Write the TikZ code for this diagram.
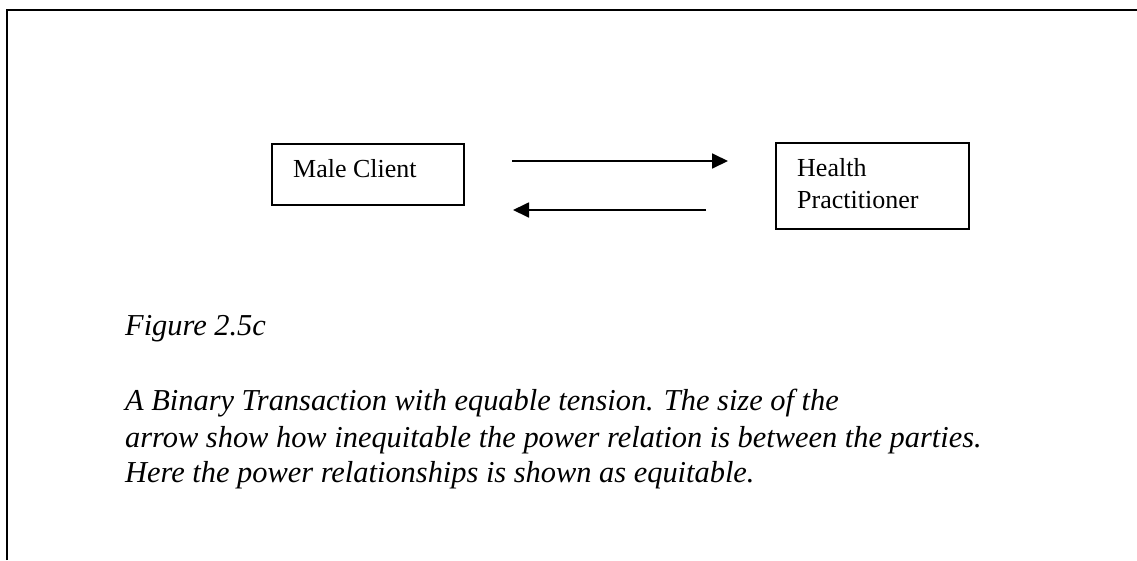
\documentclass[tikz,border=0pt]{standalone}
\usepackage{fontspec}
\setmainfont{Liberation Serif}
\usetikzlibrary{arrows.meta}
\begin{document}
\begin{tikzpicture}[x=1pt,y=-1pt,
  frame/.style={line width=2pt},
  box/.style={draw, line width=1.3pt, rectangle, inner sep=0pt},
  boxtext/.style={anchor=base west, inner sep=0pt, font=\fontsize{26}{32}\selectfont},
  captext/.style={anchor=base west, inner sep=0pt, font=\fontsize{30.4}{36.5}\selectfont\itshape},
  flow/.style={line width=1.8pt, -{Triangle[length=16pt,width=15pt]}}]
\useasboundingbox (0,0) rectangle (1137,560);
\fill[white] (0,0) rectangle (1137,560);
\draw[frame] (7,560) -- (7,10) -- (1137,10);
% boxes
\node[box, minimum width=192pt, minimum height=61pt] (mc) at (368,174.5) {};
\node[boxtext] (mct) at (293,177) {Male Client};
\node[box, minimum width=193pt, minimum height=86pt] (hp) at (872.5,186) {};
\node[boxtext] (hpt1) at (797,176) {Health};
\node[boxtext] (hpt2) at (797,208) {Practitioner};
% arrows
\coordinate (a1s) at (512,161);
\coordinate (a1e) at (728,161);
\coordinate (a2s) at (706,210);
\coordinate (a2e) at (513,210);
\draw[flow] (a1s) -- (a1e);
\draw[flow] (a2s) -- (a2e);
% caption
\node[captext] (fig) at (125,335) {Figure 2.5c};
\node[captext] (c1) at (125,410) {A Binary Transaction with equable tension. The size of the};
\node[captext] (c2) at (125,447) {arrow show how inequitable the power relation is between the parties.};
\node[captext] (c3) at (125,482) {Here the power relationships is shown as equitable.};
\end{tikzpicture}
\end{document}
